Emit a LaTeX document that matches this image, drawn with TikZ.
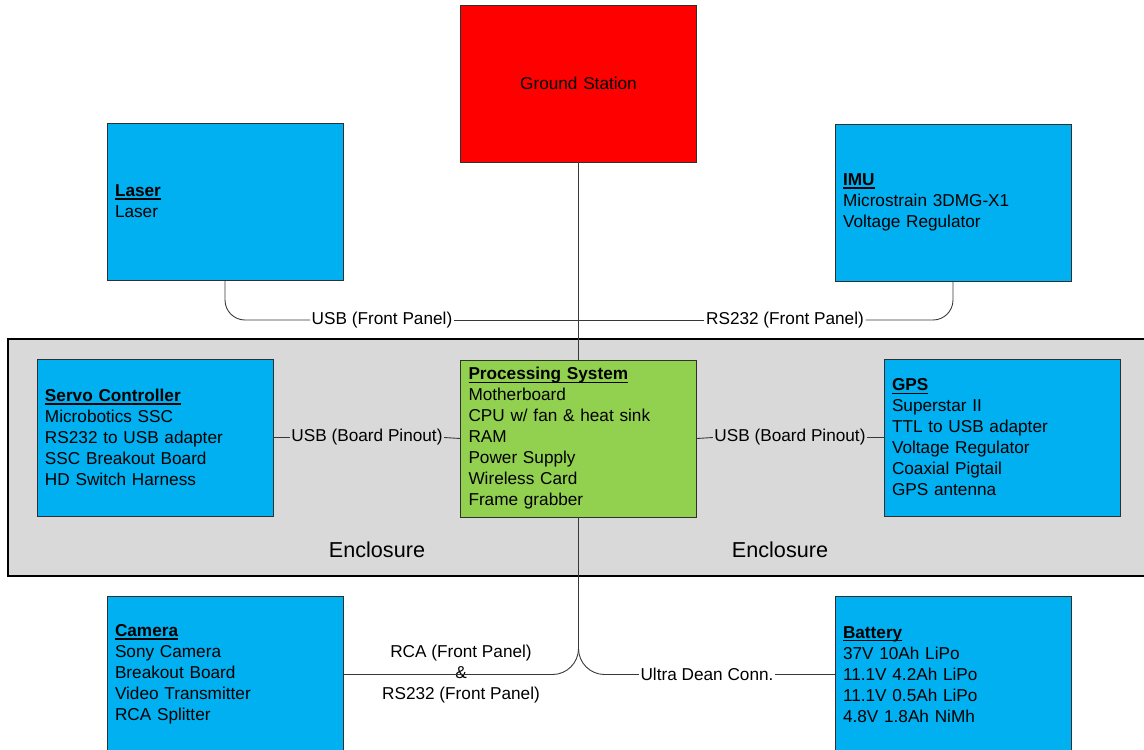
\documentclass[tikz,border=0pt]{standalone}
\usepackage{fontspec}
\setmainfont{Liberation Sans}
\definecolor{boxblue}{HTML}{00B0F0}
\definecolor{boxgreen}{HTML}{92D050}
\definecolor{boxred}{HTML}{FF0000}
\definecolor{encgray}{HTML}{D9D9D9}
\definecolor{edge}{HTML}{303030}
\definecolor{wirec}{HTML}{383838}
\newcommand{\ttl}[1]{\setbox0\hbox{\textbf{#1}}\rlap{\rule[-3pt]{\wd0}{1.4pt}}\box0}
\tikzset{
  box/.style={draw=edge, line width=0.9pt, minimum height=157pt, text width=220pt,
    inner xsep=8pt, inner ysep=0pt, align=left, font=\fontsize{17.2}{21}\selectfont},
  bluebox/.style={box, fill=boxblue},
  wire/.style={draw=wirec, line width=0.9pt},
  lbl/.style={inner xsep=1.5pt, inner ysep=0pt, font=\fontsize{17.2}{21}\selectfont},
  enclbl/.style={font=\fontsize{21.6}{26}\selectfont}
}
\begin{document}
\begin{tikzpicture}[x=1pt,y=-1pt]
\useasboundingbox (0,0) rectangle (1144,750);
\clip (0,0) rectangle (1144,750);
% enclosure
\draw[fill=encgray, line width=2.4pt, draw=black] (8,339) rectangle (1160,576);
\node[enclbl] (enc1) at (377,550) {Enclosure};
\node[enclbl] (enc2) at (780,550) {Enclosure};
% boxes
\node[box, fill=boxred, align=center] (gs) at (578.5,83.5) {Ground Station};
\node[bluebox] (laser) at (225,201.5) {\ttl{Laser}\\Laser};
\node[bluebox] (imu) at (953,202.5) {\ttl{IMU}\\Microstrain 3DMG-X1\\Voltage Regulator};
\node[bluebox] (servo) at (155,437.5) {\ttl{Servo Controller}\\Microbotics SSC\\RS232 to USB adapter\\SSC Breakout Board\\HD Switch Harness};
\node[box, fill=boxgreen] (proc) at (578.5,438.5) {\ttl{Processing System}\\Motherboard\\CPU w/ fan \& heat sink\\RAM\\Power Supply\\Wireless Card\\Frame grabber};
\node[bluebox] (gps) at (1002,437.5) {\ttl{GPS}\\Superstar II\\TTL to USB adapter\\Voltage Regulator\\Coaxial Pigtail\\GPS antenna};
\node[bluebox] (cam) at (225,674.5) {\ttl{Camera}\\Sony Camera\\Breakout Board\\Video Transmitter\\RCA Splitter};
\node[bluebox] (bat) at (953,674.5) {\ttl{Battery}\\37V 10Ah LiPo\\11.1V 4.2Ah LiPo\\11.1V 0.5Ah LiPo\\4.8V 1.8Ah NiMh};
% labels
\node[lbl] (l1) at (382,320) {USB (Front Panel)};
\node[lbl] (l2) at (785,320) {RS232 (Front Panel)};
\node[lbl] (l3) at (367,437.5) {USB (Board Pinout)};
\node[lbl] (l4) at (790,437.5) {USB (Board Pinout)};
\node[lbl, align=center] (l5) at (461,674) {RCA (Front Panel)\\\&\\RS232 (Front Panel)};
\node[lbl] (l6) at (707,674.5) {Ultra Dean Conn.};
\coordinate (jtop) at (578.5,320);
% connectors
\draw[wire] (gs.south) -- (proc.north);
\draw[wire, rounded corners=20pt] (laser.south) |- (l1.west);
\draw[wire] (l1.east) -- (jtop);
\draw[wire, rounded corners=20pt] (imu.south) |- (l2.east);
\draw[wire] (l2.west) -- (jtop);
\draw[wire] (servo.east) -- (l3.west);
\draw[wire] (l3.east) -- (proc.west);
\draw[wire] (proc.east) -- (l4.west);
\draw[wire] (l4.east) -- (gps.west);
\draw[wire, rounded corners=26pt] (proc.south) |- (cam.east);
\draw[wire, rounded corners=26pt] (proc.south) |- (l6.west);
\draw[wire] (l6.east) -- (bat.west);
\end{tikzpicture}
\end{document}
